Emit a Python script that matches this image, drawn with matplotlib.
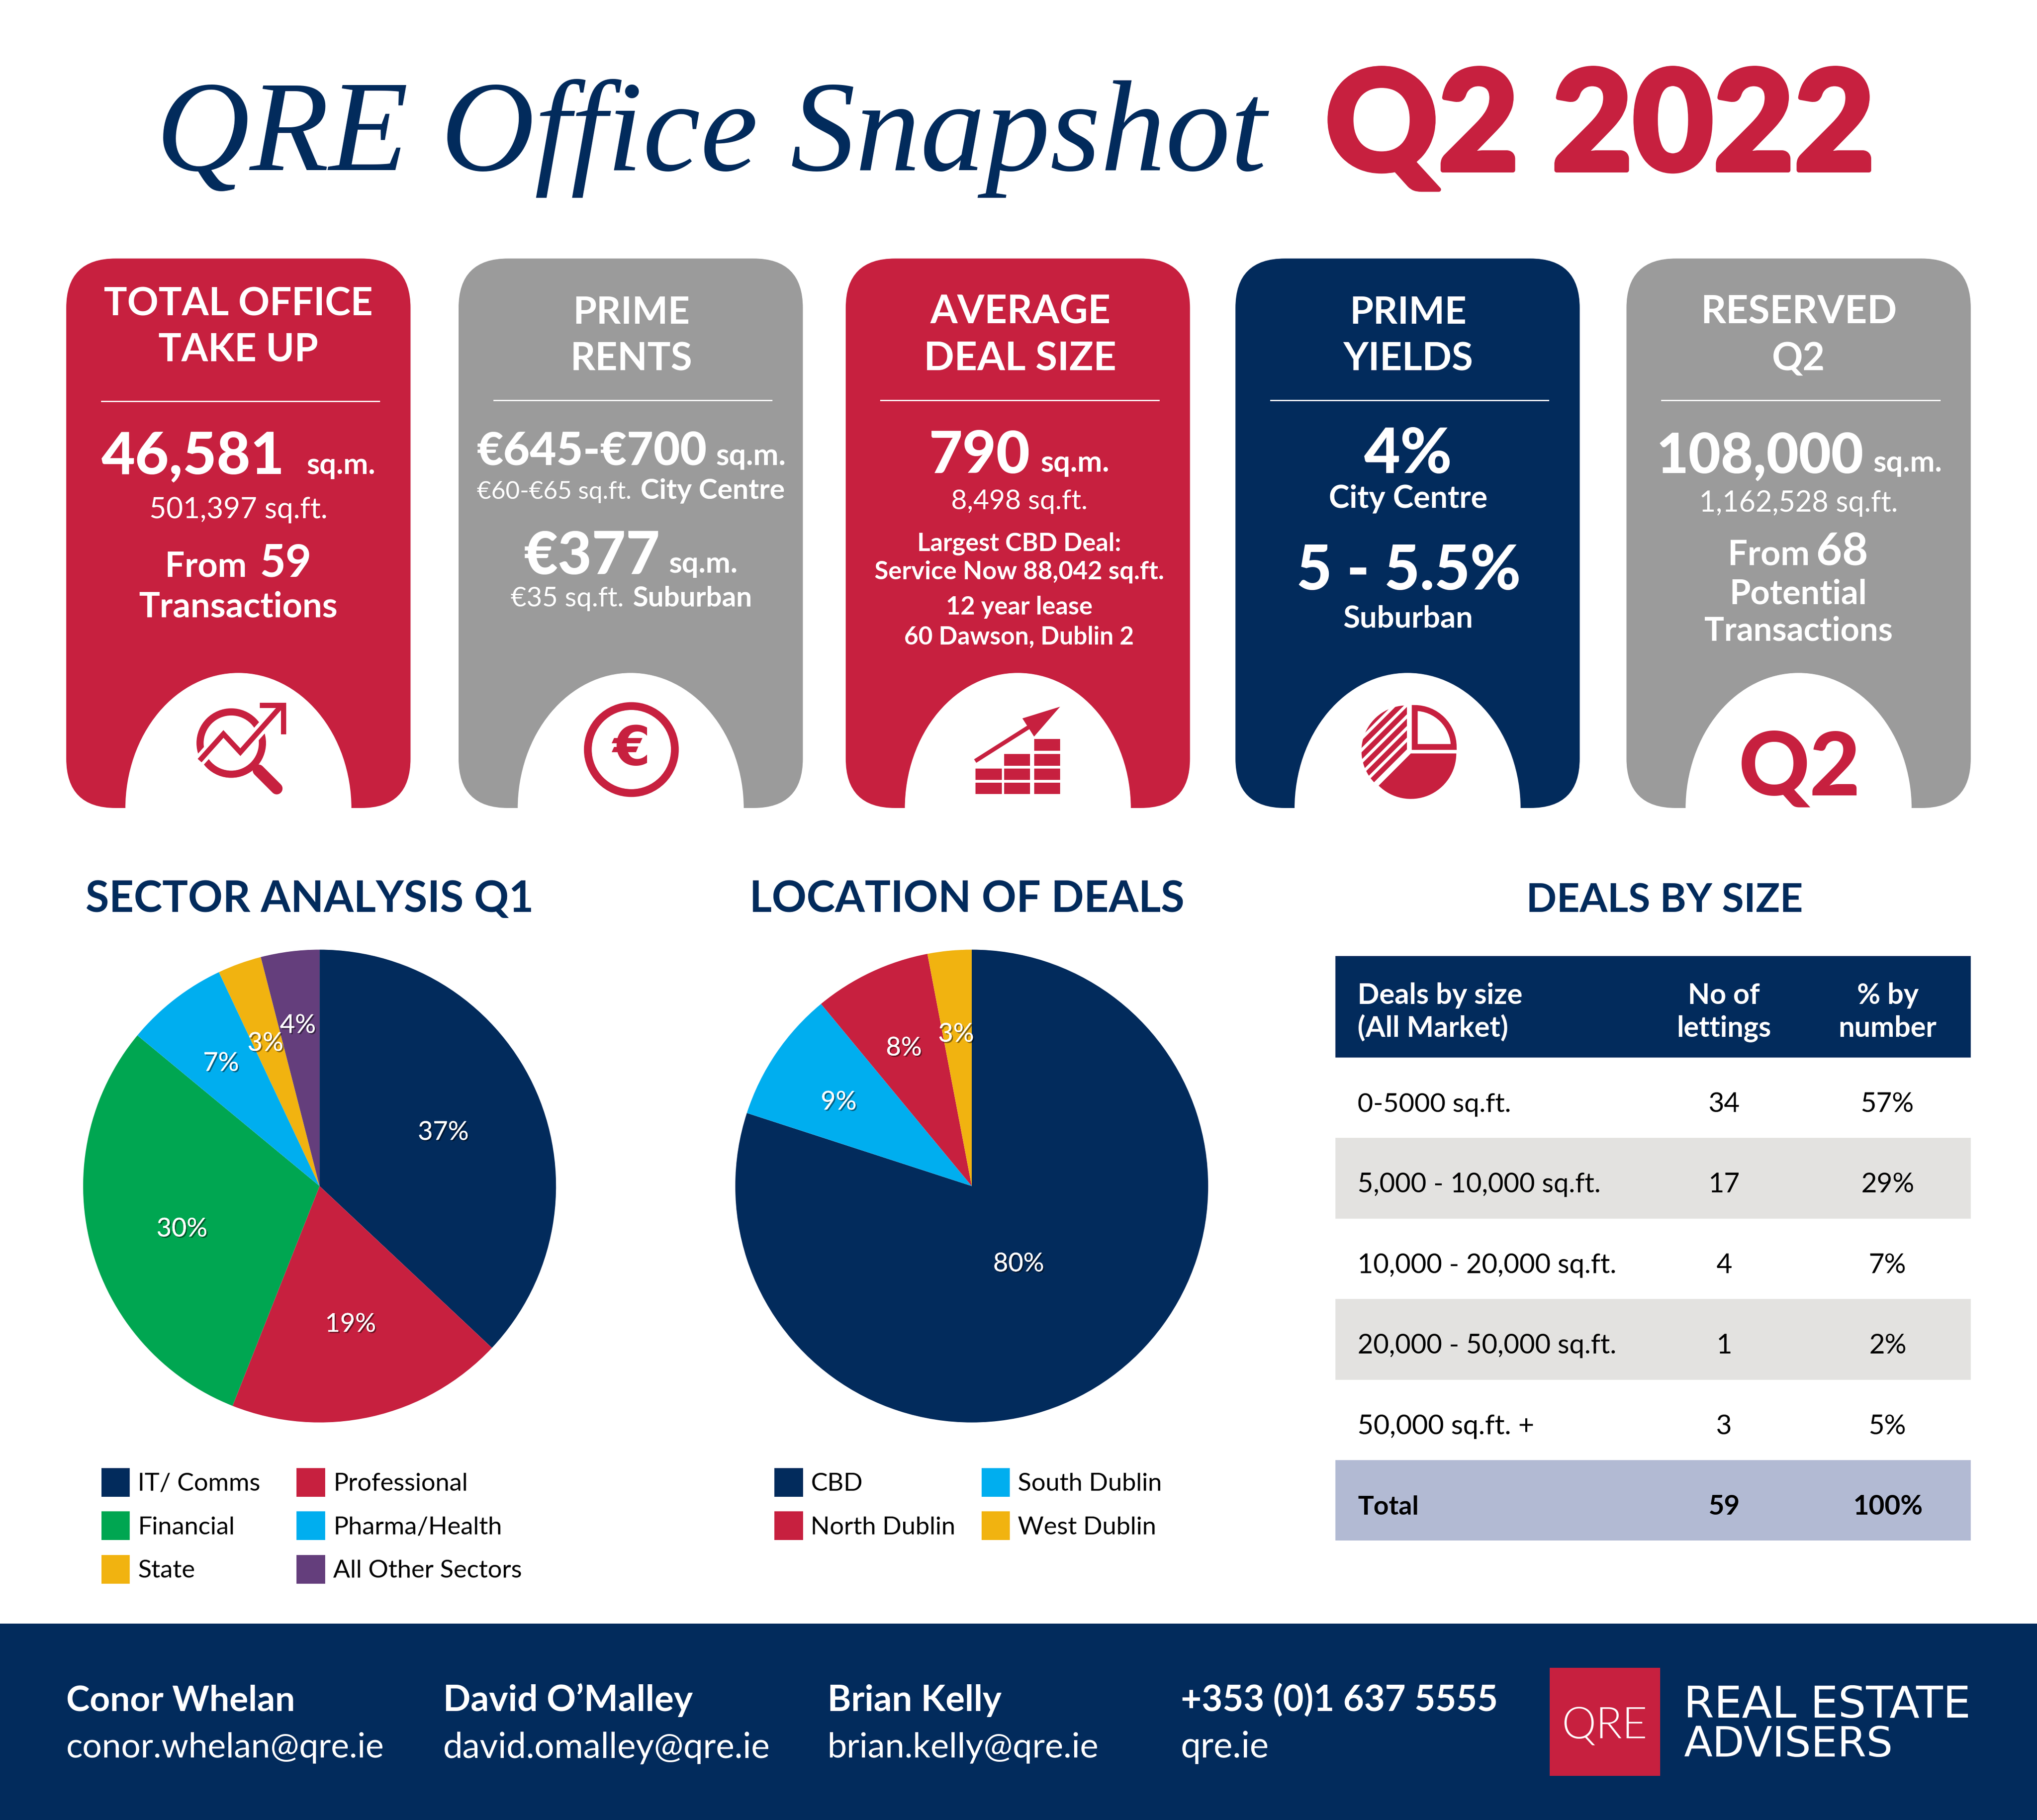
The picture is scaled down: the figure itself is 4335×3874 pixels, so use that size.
import numpy as np
import matplotlib
matplotlib.use("Agg")
import matplotlib.pyplot as plt
import matplotlib.patheffects as pe
from matplotlib.patches import FancyBboxPatch, Rectangle, Ellipse, Circle, Wedge, Polygon, Patch

# ---------- data ----------
sector_labels = ["IT/ Comms", "Professional", "Financial", "Pharma/Health", "State", "All Other Sectors"]
sector_values = [37, 19, 30, 7, 3, 4]
location_labels = ["CBD", "South Dublin", "North Dublin", "West Dublin"]
location_values = [80, 9, 8, 3]
size_bands = ["0-5000 sq.ft.", "5,000 - 10,000 sq.ft.", "10,000 - 20,000 sq.ft.",
              "20,000 - 50,000 sq.ft.", "50,000 sq.ft. +", "Total"]
size_lettings = ["34", "17", "4", "1", "3", "59"]
size_percent = ["57%", "29%", "7%", "2%", "5%", "100%"]

NAVY, RED, GREY = "#022B5C", "#C7203F", "#9B9B9B"
GREEN, BLUE, YELLOW, PURPLE = "#00A651", "#00AEEF", "#F1B310", "#643E7C"
sector_colors = [NAVY, RED, GREEN, BLUE, YELLOW, PURPLE]
location_colors = [NAVY, BLUE, RED, YELLOW]

W, H = 1568.0, 1401.0
fig = plt.figure(figsize=(43.35, 38.74), dpi=100, facecolor="white")
ax = fig.add_axes([0, 0, 1, 1])
ax.set_xlim(0, W); ax.set_ylim(H, 0); ax.axis("off")
r = fig.canvas.get_renderer()
K = 4335.0 / W

def T(s, x0, x1, y, weight="bold", color="white", family="Lato", **kw):
    t = ax.text(x0, y, s, fontsize=100, fontweight=weight, color=color, family=family,
                ha="left", va="baseline", **kw)
    w = t.get_window_extent(r).width
    t.set_fontsize(100 * (x1 - x0) * K / w)
    return t

def C(s, x, y, size, weight="normal", color="black", family="Lato"):
    return ax.text(x, y, s, fontsize=size * K * 0.72, fontweight=weight, color=color,
                   family=family, ha="center", va="baseline")

# ---------- title ----------
T("QRE Office Snapshot", 120, 975, 131, weight="normal", color=NAVY, family="Liberation Serif", style="italic")
tt = T("Q2 2022", 1020, 1443, 131, weight=900, color=RED)
tt.set_path_effects([pe.withStroke(linewidth=7, foreground=RED)])

# ---------- cards ----------
card_x = [51, 353, 651, 951, 1252]
card_colors = [RED, GREY, RED, NAVY, GREY]
for x, c in zip(card_x, card_colors):
    rad = 38
    ax.add_patch(FancyBboxPatch((x + rad, 199 + rad), 265 - 2 * rad, 423 - 2 * rad,
                                boxstyle=f"round,pad={rad},rounding_size={rad}",
                                fc=c, ec="none", zorder=1))
    cx = x + 132.5
    ax.add_patch(Ellipse((cx, 622.5), 174, 209, fc="white", ec="none", zorder=2))
    rule_y = 309 if x == 51 else 308
    ax.plot([x + 27, x + 241], [rule_y, rule_y], color="white", lw=2.0, zorder=3)

# card 1
T("TOTAL OFFICE", 80, 287, 243); T("TAKE UP", 122, 245, 278)
T("46,581", 78, 219, 365, weight=900); T("sq.m.", 236, 289, 365)
T("501,397 sq.ft.", 115, 252, 399, weight="normal")
T("From", 127, 190, 444); T("59", 200, 240, 444)
T("Transactions", 107, 260, 475)
# card 2
T("PRIME", 441, 531, 249); T("RENTS", 439, 533, 285)
T("€645-€700", 367, 544, 358, weight=900); T("sq.m.", 551, 605, 358)
T("€60-€65 sq.ft.", 367, 486, 384, weight="normal"); T("City Centre", 493, 604, 384)
T("€377", 403, 508, 442, weight=900); T("sq.m.", 515, 568, 441)
T("€35 sq.ft.", 393, 480, 467, weight="normal"); T("Suburban", 487, 579, 467)
# card 3
T("AVERAGE", 716, 855, 249); T("DEAL SIZE", 711, 859, 285)
T("790", 715, 793, 364, weight=900); T("sq.m.", 801, 854, 363)
T("8,498 sq.ft.", 732, 837, 392, weight="normal")
T("Largest CBD Deal:", 706, 863, 424); T("Service Now 88,042 sq.ft.", 673, 896, 446)
T("12 year lease", 728, 841, 473); T("60 Dawson, Dublin 2", 696, 873, 496)
# card 4
T("PRIME", 1039, 1129, 249); T("YIELDS", 1034, 1134, 285)
T("4%", 1050, 1118, 364, weight=900); T("City Centre", 1023, 1145, 391)
T("5 - 5.5%", 998, 1171, 454, weight=900); T("Suburban", 1034, 1134, 483)
# card 5
T("RESERVED", 1309, 1460, 249); T("Q2", 1364, 1405, 285)
T("108,000", 1275, 1435, 364, weight=900); T("sq.m.", 1442, 1495, 363)
T("1,162,528 sq.ft.", 1308, 1461, 394, weight="normal")
T("From", 1330, 1393, 435); T("68", 1398, 1438, 435)
T("Potential", 1331, 1437, 465); T("Transactions", 1312, 1457, 493)

# ---------- icons ----------
Z = 5
# magnifier + zigzag arrow
ax.add_patch(Circle((178, 572), 24, fc="white", ec=RED, lw=K * 0.72 * 5.5, zorder=Z))
ax.plot([199, 213], [593, 607], color=RED, lw=K * 0.72 * 9, solid_capstyle="round", zorder=Z)
ax.plot([155, 172, 185, 216], [584, 565, 579, 544], color="white", lw=K * 0.72 * 9, zorder=Z + 1)
ax.plot([155, 172, 185, 216], [584, 565, 579, 544], color=RED, lw=K * 0.72 * 4,
        solid_joinstyle="miter", zorder=Z + 2)
ax.plot([202, 218, 218], [543, 543, 563], color=RED, lw=K * 0.72 * 4,
        solid_joinstyle="miter", zorder=Z + 2)
# euro coin
ax.add_patch(Circle((486, 577), 33.5, fc="white", ec=RED, lw=K * 0.72 * 6, zorder=Z))
ax.text(486, 577, "€", fontsize=42 * K * 0.72, fontweight="bold", color=RED, family="DejaVu Sans",
        ha="center", va="center", zorder=Z + 1)
# stacked bars + arrow
grid_cols = [751, 773, 796]
grid_rows = [569, 580.5, 591.5, 602.5]
for ri, ry in enumerate(grid_rows):
    for ci, gx in enumerate(grid_cols):
        if (ri == 0 and ci < 2) or (ri == 1 and ci < 1):
            continue
        ax.add_patch(Rectangle((gx, ry), 20, 8.8, fc=RED, ec="none", zorder=Z))
ax.plot([752, 793], [585, 559], color=RED, lw=K * 0.72 * 3.2, zorder=Z)
ax.add_patch(Polygon([(816, 544), (787, 553), (796, 567)], fc=RED, ec="none", zorder=Z))
# pie icon
ax.add_patch(Wedge((1086, 580), 35, 0, 135, fc=RED, ec="none", zorder=Z))
ax.add_patch(Wedge((1089, 575), 30, -90, 0, fc="white", ec=RED, lw=K * 0.72 * 4.5, zorder=Z))
clip = Wedge((1083, 578), 35, 135, 270, fc="none", ec="none", zorder=Z)
ax.add_patch(clip)
for off in range(-60, 10, 9):
    ln, = ax.plot([1040, 1130], [578 + off + 45, 578 + off - 45], color=RED, lw=K * 0.72 * 4, zorder=Z)
    ln.set_clip_path(clip)
# Q2 icon
T("Q2", 1338, 1432, 612, weight=900, color=RED, zorder=Z)

# ---------- section titles ----------
T("SECTOR ANALYSIS Q1", 66, 411, 702, color=NAVY)
T("LOCATION OF DEALS", 577, 912, 702, color=NAVY)
T("DEALS BY SIZE", 1175, 1388, 702, color=NAVY)

# ---------- pies ----------
def pie(cx, cy, rad, values, colors, dist, tilt):
    pa = fig.add_axes([(cx - rad) / W, 1 - (cy + rad) / H, 2 * rad / W, 2 * rad / H])
    wedges, _, autos = pa.pie(values, colors=colors, startangle=90, counterclock=False, radius=1,
                              autopct=lambda p: f"{round(p):d}%", pctdistance=0.6,
                              wedgeprops=dict(linewidth=0),
                              textprops=dict(color="white", family="Lato", fontsize=20 * K * 0.72))
    pa.set_xlim(-1, 1); pa.set_ylim(-1, 1); pa.axis("off")
    for a, d, g in zip(autos, dist, tilt):
        x, y = a.get_position()
        th = np.arctan2(y, x) + np.radians(g)   # positive g turns the label clockwise-negative
        rr = np.hypot(x, y) * d / 0.6
        a.set_position((rr * np.cos(th), rr * np.sin(th)))
        a.set_path_effects([pe.withSimplePatchShadow(offset=(2, -2), shadow_rgbFace="black", alpha=0.45),
                            pe.Normal()])
    return wedges

pie(246, 913, 182, sector_values, sector_colors, [0.57, 0.60, 0.61, 0.665, 0.645, 0.685], [0, 0, 3, 1, 1, 0.5])
pie(748, 913, 182, location_values, location_colors, [0.385, 0.665, 0.65, 0.645], [-5, 2, 1, 0.5])

# ---------- legends ----------
FS = 19.3  # font size in view units
def legend(labels, colors, x, y, colgap):
    order = list(range(0, len(labels), 2)) + list(range(1, len(labels), 2))
    hs = [Patch(fc=colors[i], ec="none") for i in order]
    ls = [labels[i] for i in order]
    leg = ax.legend(hs, ls, ncol=2, loc="upper left", bbox_to_anchor=(x / W, 1 - y / H),
                    bbox_transform=fig.transFigure, frameon=False, borderpad=0, borderaxespad=0,
                    handlelength=22 / FS, handleheight=26.6 / FS,
                    handletextpad=6 / FS, columnspacing=colgap / FS, labelspacing=11.5 / FS,
                    prop=dict(family="Lato", size=FS * K * 0.72))
    for tx in leg.get_texts():
        tx.set_color("black")
    return leg

ax.add_artist(legend(sector_labels, sector_colors, 78, 1130, 28))
legend(location_labels, location_colors, 596, 1130, 20)

# ---------- table ----------
ax.add_patch(Rectangle((1028, 736), 489, 78, fc=NAVY, ec="none"))
T("Deals by size", 1045, 1172, 773); T("(All Market)", 1045, 1161, 798)
C("No of", 1327, 773, 22, "bold", "white"); C("lettings", 1327, 798, 22, "bold", "white")
C("% by", 1453, 773, 22, "bold", "white"); C("number", 1453, 798, 22, "bold", "white")
row_fill = ["white", "#E3E2E0", "white", "#E3E2E0", "white", "#B2BAD3"]
band_ends = [1163, 1232, 1244, 1244, 1181, 1092]
for i, (b, n, p) in enumerate(zip(size_bands, size_lettings, size_percent)):
    top = 814 + 62 * i
    ax.add_patch(Rectangle((1028, top), 489, 62, fc=row_fill[i], ec="none"))
    wt = "bold" if b == "Total" else "normal"
    T(b, 1045, band_ends[i], top + 42, weight=wt, color="black")
    C(n, 1327, top + 42, 21, wt, "black")
    C(p, 1453, top + 42, 21, wt, "black")

# ---------- footer ----------
ax.add_patch(Rectangle((0, 1250), W, 151, fc=NAVY, ec="none"))
T("Conor Whelan", 51, 227, 1317); T("conor.whelan@qre.ie", 51, 296, 1353, weight="normal")
T("David O\u2019Malley", 341, 533, 1317); T("david.omalley@qre.ie", 341, 593, 1353, weight="normal")
T("Brian Kelly", 637, 771, 1317); T("brian.kelly@qre.ie", 637, 846, 1353, weight="normal")
T("+353 (0)1 637 5555", 909, 1153, 1317); T("qre.ie", 909, 977, 1353, weight="normal")
ax.add_patch(Rectangle((1193, 1284), 85, 83, fc=RED, ec="none"))
T("QRE", 1202, 1268, 1338, weight=300)
T("REAL ESTATE", 1296, 1517, 1322, family="DejaVu Sans", weight="normal")
T("ADVISERS", 1296, 1457, 1352, family="DejaVu Sans", weight="normal")

fig.savefig("out.png", dpi=100, facecolor="white")
